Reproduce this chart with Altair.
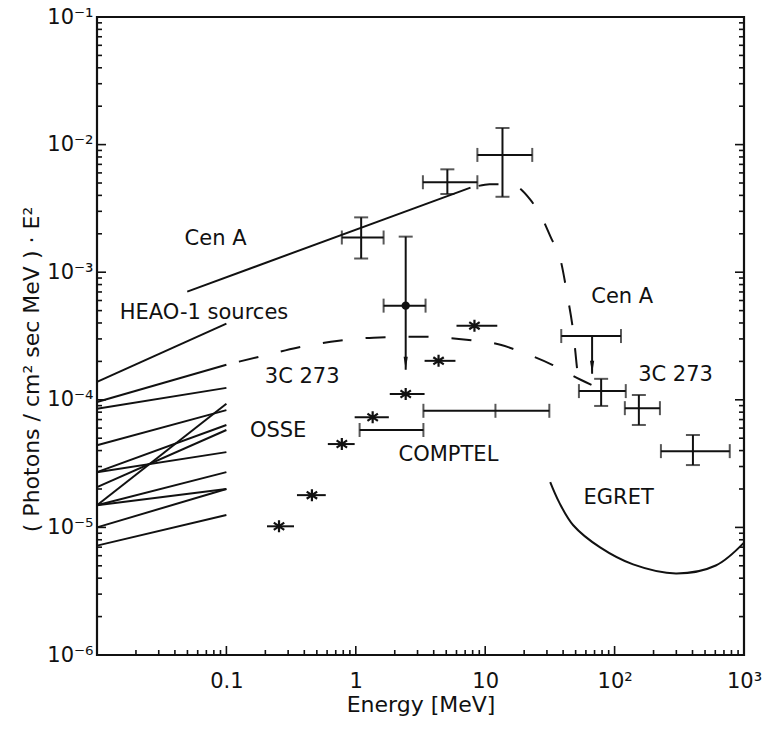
import altair as alt
import pandas as pd

# ---------------- data (energy in MeV, E^2 * flux in photons/cm^2 s MeV) ----------------

# HEAO-1 sources: power laws between 0.01 MeV and 0.1 MeV
heao_e_start = 0.01
heao_e_end = 0.1
heao_f_start = [1.38e-4, 9.6e-5, 8.5e-5, 4.4e-5, 1.49e-5, 2.71e-5,
                2.07e-5, 2.71e-5, 1.49e-5, 1.49e-5, 1.0e-5, 7.2e-6]
heao_f_end = [3.95e-4, 1.88e-4, 1.24e-4, 8.3e-5, 9.3e-5, 6.35e-5,
              5.8e-5, 3.89e-5, 2.71e-5, 2.0e-5, 2.0e-5, 1.25e-5]

# Cen A power-law extrapolation
cena_pl_e = [0.0498, 7.7]
cena_pl_f = [7.05e-4, 4.6e-3]

# Cen A measurements
cena_e = [1.1, 5.1, 13.6]
cena_e_lo = [0.78, 3.3, 8.7]
cena_e_hi = [1.64, 8.7, 23.1]
cena_f = [1.87e-3, 5.07e-3, 8.3e-3]
cena_f_lo = [1.28e-3, 4.1e-3, 3.9e-3]
cena_f_hi = [2.69e-3, 6.4e-3, 1.35e-2]

# Cen A model (dashed)
cena_model_e = [8.9, 10.8, 15.6, 22.3, 27.1, 32.4, 38.0, 43.0, 47.9, 52.3, 54.2]
cena_model_f = [4.75e-3, 4.9e-3, 4.9e-3, 3.7e-3, 2.74e-3, 1.84e-3,
                1.28e-3, 6.7e-4, 3.42e-4, 1.51e-4, 1.26e-4]

# 3C 273: point with upper extent (filled dot)
dot_e, dot_e_lo, dot_e_hi = 2.43, 1.64, 3.46
dot_f, dot_f_top, dot_f_arrow = 5.47e-4, 1.9e-3, 1.72e-4

# Cen A EGRET upper limit
cena_ul_e, cena_ul_e_lo, cena_ul_e_hi = 67.0, 38.7, 112.0
cena_ul_f, cena_ul_arrow = 3.16e-4, 1.6e-4

# 3C 273 EGRET measurements
egret_e = [78.7, 154.0, 403.0]
egret_e_lo = [53.0, 120.0, 228.0]
egret_e_hi = [122.0, 224.0, 776.0]
egret_f = [1.17e-4, 8.6e-5, 3.96e-5]
egret_f_lo = [8.95e-5, 6.35e-5, 3.08e-5]
egret_f_hi = [1.46e-4, 1.09e-4, 5.3e-5]

# 3C 273 OSSE measurements (stars)
osse_e = [0.255, 0.458, 0.78, 1.35, 2.43, 4.36, 8.26]
osse_e_lo = [0.206, 0.351, 0.608, 0.98, 1.83, 3.4, 6.0]
osse_e_hi = [0.333, 0.586, 0.98, 1.80, 3.4, 5.89, 12.4]
osse_f = [1.02e-5, 1.79e-5, 4.5e-5, 7.3e-5, 1.11e-4, 2.02e-4, 3.81e-4]

# 3C 273 COMPTEL energy bins
comptel_e_lo = [1.07, 3.33]
comptel_e_hi = [3.33, 31.3]
comptel_f = [5.8e-5, 8.2e-5]
comptel_mid_e = [12.0]
comptel_mid_f = [8.2e-5]

# 3C 273 model (dashed)
c273_model_e = [0.125, 0.206, 0.351, 0.641, 1.37, 3.11, 7.16, 13.1, 19.7, 33.0, 55.2, 77.3]
c273_model_f = [1.99e-4, 2.25e-4, 2.56e-4, 2.85e-4, 3.07e-4, 3.12e-4,
                2.96e-4, 2.70e-4, 2.34e-4, 1.88e-4, 1.43e-4, 1.22e-4]

# EGRET sensitivity curve
egret_sens_e = [31.8, 37.3, 47.9, 77.3, 139.0, 298.0, 605.0, 1000.0]
egret_sens_f = [2.26e-5, 1.57e-5, 1.04e-5, 6.97e-6, 5.13e-6, 4.36e-6, 5.03e-6, 7.6e-6]

# annotations: text, anchor energy, anchor flux
note_text = ["Cen A", "HEAO-1 sources", "3C 273", "OSSE", "COMPTEL", "EGRET", "Cen A", "3C 273"]
note_e = [0.0475, 0.015, 0.198, 0.152, 2.14, 57.5, 66.0, 152.0]
note_f = [1.81e-3, 4.8e-4, 1.51e-4, 5.7e-5, 3.69e-5, 1.69e-5, 6.4e-4, 1.57e-4]

# axis labels
x_label_values = [0.1, 1, 10, 100, 1000]
x_label_text = ["0.1", "1", "10", "10²", "10³"]
y_label_values = [1e-6, 1e-5, 1e-4, 1e-3, 1e-2, 1e-1]
y_label_text = ["10⁻⁶", "10⁻⁵", "10⁻⁴", "10⁻³", "10⁻²", "10⁻¹"]

# ---------------- tables ----------------
heao_df = pd.DataFrame({"e": heao_e_start, "e2": heao_e_end,
                        "f": heao_f_start, "f2": heao_f_end})
pl_df = pd.DataFrame({"e": [cena_pl_e[0]], "e2": [cena_pl_e[1]],
                      "f": [cena_pl_f[0]], "f2": [cena_pl_f[1]]})

dashed_df = pd.concat([
    pd.DataFrame({"e": cena_model_e, "f": cena_model_f, "curve": "Cen A"}),
    pd.DataFrame({"e": c273_model_e, "f": c273_model_f, "curve": "3C 273"}),
])
sens_df = pd.DataFrame({"e": egret_sens_e, "f": egret_sens_f})

# horizontal bars with end caps
hbar_df = pd.DataFrame({
    "e": cena_e_lo + [dot_e_lo, cena_ul_e_lo] + egret_e_lo + comptel_e_lo,
    "e2": cena_e_hi + [dot_e_hi, cena_ul_e_hi] + egret_e_hi + comptel_e_hi,
    "f": cena_f + [dot_f, cena_ul_f] + egret_f + comptel_f,
})
hcap_df = pd.concat([
    pd.DataFrame({"e": hbar_df["e"], "f": hbar_df["f"]}),
    pd.DataFrame({"e": hbar_df["e2"], "f": hbar_df["f"]}),
    pd.DataFrame({"e": comptel_mid_e, "f": comptel_mid_f}),
])
# OSSE horizontal bars (no caps)
osse_df = pd.DataFrame({"e": osse_e, "lo": osse_e_lo, "hi": osse_e_hi, "f": osse_f})

# vertical bars with end caps
vbar_df = pd.DataFrame({
    "e": cena_e + egret_e,
    "f": cena_f_lo + egret_f_lo,
    "f2": cena_f_hi + egret_f_hi,
})
vcap_df = pd.concat([
    pd.DataFrame({"e": vbar_df["e"], "f": vbar_df["f"]}),
    pd.DataFrame({"e": vbar_df["e"], "f": vbar_df["f2"]}),
    pd.DataFrame({"e": [dot_e], "f": [dot_f_top]}),
])

# arrows (upper limits)
arrow_df = pd.DataFrame({
    "e": [dot_e, cena_ul_e],
    "f": [dot_f_top, cena_ul_f],
    "f2": [dot_f_arrow, cena_ul_arrow],
})
dot_df = pd.DataFrame({"e": [dot_e], "f": [dot_f]})
note_df = pd.DataFrame({"text": note_text, "e": note_e, "f": note_f})

# minor / major tick positions on both log axes
x_major = [10.0 ** k for k in range(-1, 3)]
x_minor = [m * 10.0 ** k for k in range(-2, 3) for m in range(2, 10)]
y_major = [10.0 ** k for k in range(-5, -1)]
y_minor = [m * 10.0 ** k for k in range(-6, -1) for m in range(2, 10)]

# ---------------- chart ----------------
W, H = 647, 638
FONT = "DejaVu Sans"
INK = "#111111"

xscale = alt.Scale(type="log", domain=[0.01, 1000], nice=False)
yscale = alt.Scale(type="log", domain=[1e-6, 1e-1], nice=False)

x_expr = "[" + ",".join(f"'{t}'" for t in x_label_text) + "][round(log(datum.value)/LN10)+1]"
y_expr = "[" + ",".join(f"'{t}'" for t in y_label_text) + "][round(log(datum.value)/LN10)+6]"

xaxis = alt.Axis(values=x_label_values, labelExpr=x_expr, ticks=False, domain=False,
                 grid=False, title="Energy [MeV]", labelPadding=15, titlePadding=3,
                 titleFontSize=22, labelFlush=False, labelOverlap=False)
yaxis = alt.Axis(values=y_label_values, labelExpr=y_expr, ticks=False, domain=False,
                 grid=False, title="( Photons / cm² sec MeV ) · E²", labelPadding=4,
                 titleFontSize=22, titleX=-54, titleY=352,
                 labelFlush=False, labelOverlap=False)


def X(field):
    return alt.X(f"{field}:Q", scale=xscale, axis=xaxis)


def Y(field):
    return alt.Y(f"{field}:Q", scale=yscale, axis=yaxis)


lw = 2

heao = alt.Chart(heao_df).mark_rule(strokeWidth=lw, color=INK).encode(
    x=X("e"), x2="e2", y=Y("f"), y2="f2")
powerlaw = alt.Chart(pl_df).mark_rule(strokeWidth=lw, color=INK).encode(
    x=X("e"), x2="e2", y=Y("f"), y2="f2")

dashed = alt.Chart(dashed_df).mark_line(
    strokeWidth=lw, color=INK, strokeDash=[20, 23], interpolate="monotone"
).encode(x=X("e"), y=Y("f"), detail="curve:N", order="e:Q")

sens = alt.Chart(sens_df).mark_line(
    strokeWidth=lw, color=INK, interpolate="catmull-rom"
).encode(x=X("e"), y=Y("f"), order="e:Q")

hbar = alt.Chart(hbar_df).mark_rule(strokeWidth=lw, color=INK).encode(
    x=X("e"), x2="e2", y=Y("f"))
hcap = alt.Chart(hcap_df).mark_tick(orient="vertical", size=14, thickness=2, color=INK).encode(
    x=X("e"), y=Y("f"))
vbar = alt.Chart(vbar_df).mark_rule(strokeWidth=lw, color=INK).encode(
    x=X("e"), y=Y("f"), y2="f2")
vcap = alt.Chart(vcap_df).mark_tick(orient="horizontal", size=14, thickness=2, color=INK).encode(
    x=X("e"), y=Y("f"))

osse_bar = alt.Chart(osse_df).mark_rule(strokeWidth=lw, color=INK).encode(
    x=X("lo"), x2="hi", y=Y("f"))
star_path = "M0,-1L0,1M-0.87,-0.6L0.87,0.6M-0.87,0.6L0.87,-0.6"
osse_star = alt.Chart(osse_df).mark_point(
    shape=star_path, size=144, filled=False, strokeWidth=2.2, color=INK, opacity=1
).encode(x=X("e"), y=Y("f"))

arrow_line = alt.Chart(arrow_df).mark_rule(strokeWidth=lw, color=INK).encode(
    x=X("e"), y=Y("f"), y2="f2")
arrow_head = alt.Chart(arrow_df).mark_point(
    shape="M-0.32,-2L0.32,-2L0,0Z", size=169, filled=True, color=INK, opacity=1
).encode(x=X("e"), y=Y("f2"))

dot = alt.Chart(dot_df).mark_point(
    shape="circle", size=70, filled=True, color=INK, opacity=1
).encode(x=X("e"), y=Y("f"))

notes = alt.Chart(note_df).mark_text(
    align="left", baseline="middle", font=FONT, fontSize=21, color=INK
).encode(x=X("e"), y=Y("f"), text="text:N")

# inward ticks on bottom, left and right edges
xt_major = alt.Chart(pd.DataFrame({"v": x_major})).mark_rule(strokeWidth=1.6, color=INK).encode(
    x=X("v"), y=alt.value(H), y2=alt.value(H - 9))
xt_minor = alt.Chart(pd.DataFrame({"v": x_minor})).mark_rule(strokeWidth=1.6, color=INK).encode(
    x=X("v"), y=alt.value(H), y2=alt.value(H - 5))
yl_major = alt.Chart(pd.DataFrame({"v": y_major})).mark_rule(strokeWidth=1.6, color=INK).encode(
    y=Y("v"), x=alt.value(0), x2=alt.value(9))
yl_minor = alt.Chart(pd.DataFrame({"v": y_minor})).mark_rule(strokeWidth=1.6, color=INK).encode(
    y=Y("v"), x=alt.value(0), x2=alt.value(5))
yr_major = alt.Chart(pd.DataFrame({"v": y_major})).mark_rule(strokeWidth=1.6, color=INK).encode(
    y=Y("v"), x=alt.value(W), x2=alt.value(W - 9))
yr_minor = alt.Chart(pd.DataFrame({"v": y_minor})).mark_rule(strokeWidth=1.6, color=INK).encode(
    y=Y("v"), x=alt.value(W), x2=alt.value(W - 5))

chart = alt.layer(
    heao, powerlaw, dashed, sens, osse_bar, osse_star, hbar, hcap, vbar, vcap,
    arrow_line, arrow_head, dot, notes,
    xt_major, xt_minor, yl_major, yl_minor, yr_major, yr_minor,
).properties(
    width=W, height=H,
    autosize=alt.AutoSizeParams(type="none"),
    padding={"left": 97, "top": 17, "right": 21, "bottom": 75},
    background="white",
).configure_view(
    stroke=INK, strokeWidth=2.2
).configure_axis(
    labelFont=FONT, labelFontSize=21, labelColor=INK,
    titleFont=FONT, titleFontSize=20, titleFontWeight="normal", titleColor=INK,
)

chart.save("out.html", embed_options={"renderer": "svg", "actions": False})
